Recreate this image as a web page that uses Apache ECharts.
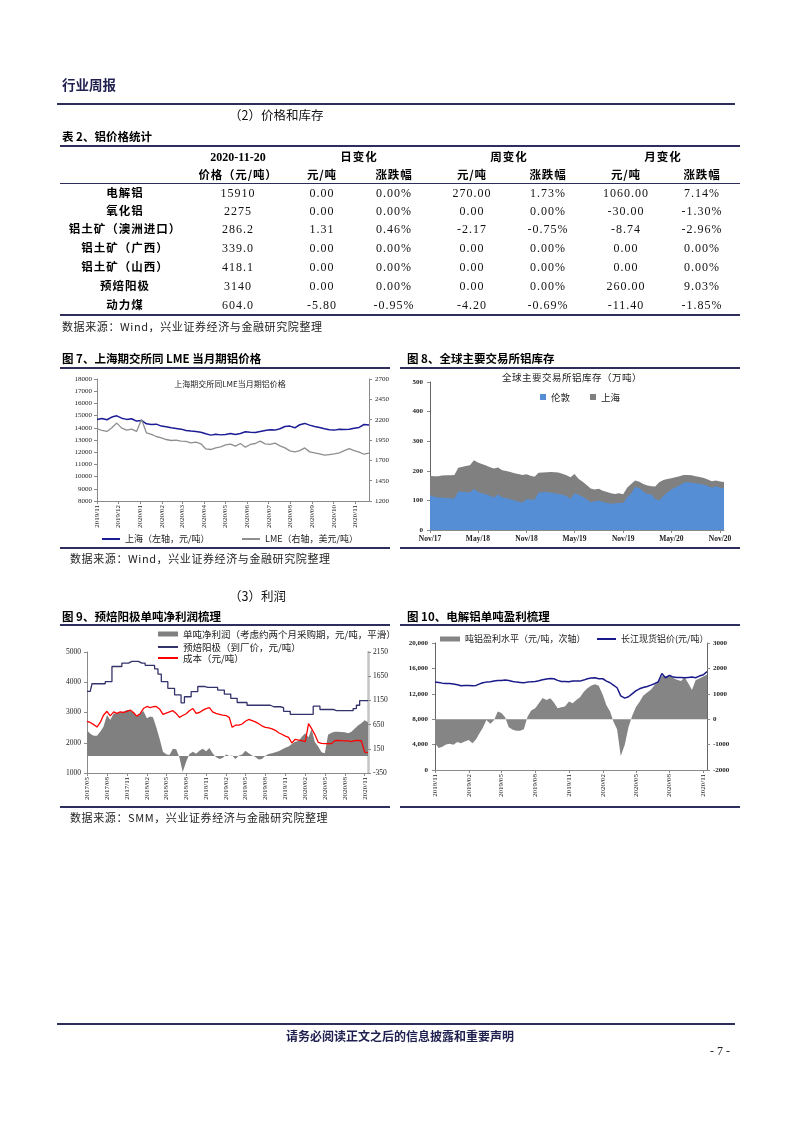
<!DOCTYPE html>
<html><head><meta charset="utf-8"><title>铝价格统计与库存、利润</title>
<script src="https://cdn.jsdelivr.net/npm/echarts@6.0.0/dist/echarts.min.js"></script>
<style>
html,body{margin:0;padding:0;background:#fff;}
#page{position:relative;width:793px;height:1122px;overflow:hidden;background:#fff;}
#chart{position:absolute;left:0;top:0;width:793px;height:1122px;}
#overlay{position:absolute;left:0;top:0;width:793px;height:1122px;pointer-events:none;}
.tx{position:absolute;white-space:nowrap;line-height:1;font-family:"Noto Sans CJK SC",sans-serif;color:#000;}
.hl{position:absolute;background:#2e2e5e;}
</style></head>
<body><div id="page"><div id="chart"></div><div id="overlay"></div></div>
<script>
// ---------------- DATA ----------------
// Table 2
const tblRows = ['电解铝','氧化铝','铝土矿（澳洲进口）','铝土矿（广西）','铝土矿（山西）','预焙阳极','动力煤'];
const tblPrice = ['15910','2275','286.2','339.0','418.1','3140','604.0'];
const tblDayAbs = ['0.00','0.00','1.31','0.00','0.00','0.00','-5.80'];
const tblDayPct = ['0.00%','0.00%','0.46%','0.00%','0.00%','0.00%','-0.95%'];
const tblWeekAbs = ['270.00','0.00','-2.17','0.00','0.00','0.00','-4.20'];
const tblWeekPct = ['1.73%','0.00%','-0.75%','0.00%','0.00%','0.00%','-0.69%'];
const tblMonAbs = ['1060.00','-30.00','-8.74','0.00','0.00','260.00','-11.40'];
const tblMonPct = ['7.14%','-1.30%','-2.96%','0.00%','0.00%','9.03%','-1.85%'];

// Fig 7: weekly from 2019-11-01
const shfeAl = [14680,14770,14660,14880,14980,14790,14690,14740,14550,14600,14330,14270,14300,14140,14080,14000,13950,13890,13780,13730,13700,13640,13510,13400,13480,13420,13450,13530,13450,13530,13670,13640,13620,13700,13780,13840,13810,13920,14110,14140,14000,14250,14360,14220,14110,14030,13920,13840,13810,13890,13860,13890,13970,14030,14270,14220];
const lmeAl = [2090,2067,2055,2100,2158,2096,2071,2084,2055,2203,2038,2018,1993,1977,1956,1944,1948,1936,1932,1915,1923,1903,1840,1833,1853,1866,1890,1899,1874,1907,1862,1895,1907,1936,1903,1895,1911,1878,1853,1816,1804,1820,1853,1804,1792,1779,1763,1771,1779,1792,1820,1845,1820,1800,1775,1788];
const fig7RightTicks = [1200,1450,1700,1950,2200,2450,2700];

// Fig 8: semi-monthly from 2017-11-01 (万吨)
const lmeStock = [117,112,110,109,108,107,106,130,129,128,127,139,128,124,121,115,110,120,111,107,104,100,96,92,105,103,102,126,128,128,126,124,122,119,115,105,124,119,112,104,94,97,100,95,91,89,90,91,92,110,123,145,142,130,122,120,105,100,115,127,137,144,151,159,162,160,158,156,153,149,143,148,143,140];
const shStock = [66,70,72,75,77,78,80,80,84,88,92,97,100,99,97,97,98,91,91,92,92,92,93,94,83,80,78,67,66,67,70,71,72,71,70,73,65,54,51,48,46,40,39,38,37,35,32,33,29,33,32,22,21,25,28,28,42,61,54,45,38,34,31,27,24,25,24,23,23,22,22,19,21,22];

// Fig 9: semi-monthly from 2017-05-01
const anodeProfit = [535,460,420,420,500,604,850,745,880,880,900,915,950,930,900,815,880,930,780,815,800,600,350,90,35,20,150,140,-30,-330,-120,40,90,50,110,150,100,165,60,-20,-60,-40,30,0,10,-60,10,30,110,60,10,-20,-70,-60,5,40,60,80,100,135,170,200,250,295,310,400,470,390,560,290,190,80,60,440,480,500,500,495,490,470,500,570,630,680,740,700];
const anodePrice = [3700,3700,3950,3950,3950,3950,4020,4020,4520,4520,4520,4630,4630,4690,4690,4690,4630,4630,4560,4560,4560,4440,4270,4020,4020,3800,3800,3580,3580,3320,3520,3520,3690,3690,3860,3860,3830,3830,3830,3830,3740,3740,3610,3610,3470,3470,3330,3330,3330,3240,3240,3240,3240,3240,3240,3240,3190,3190,3190,3160,3040,3040,2940,2940,2940,2940,2940,2940,2940,3210,3210,3100,3100,3100,3100,3060,3060,3060,3060,3060,3060,3130,3240,3390,3390,3390];
const anodeCost = [2710,2670,2600,2520,2670,2910,3040,2890,3020,2970,3020,3000,3040,3080,3000,2880,2960,3130,3200,3160,3190,3200,3110,2940,2980,3020,3060,2970,2840,2900,2960,3060,3130,2970,3000,3070,3130,3160,3020,2970,2940,2910,2900,2830,2510,2580,2580,2620,2710,2770,2730,2690,2630,2560,2510,2490,2460,2410,2330,2280,2220,2180,1990,2110,2090,2070,2040,2630,2470,2270,2010,1980,1970,1970,1970,2070,2080,2070,2060,2060,2040,2070,2080,2070,1690,1670];
const fig9RightTicks = [-350,150,650,1150,1650,2150];

// Fig 10: three points per month (1st, 11th, 21st) from 2018-11-01
const alSpot = [13840,13790,13680,13630,13630,13530,13420,13260,13320,13320,13260,13320,13530,13740,13840,13890,14000,14110,14110,14160,14110,13950,13840,13790,13740,13840,13890,13950,14050,14210,14320,14420,14370,14110,13950,13950,13890,14000,14000,14000,14160,14370,14470,14530,14370,14370,14000,13740,13370,12950,11680,11320,11530,12000,12470,12790,13000,13160,13370,13580,13890,15200,14530,14900,14630,14580,14580,14530,14580,14630,14530,14790,15000,15500];
const alProfit = [-950,-1130,-1080,-1000,-970,-1010,-900,-950,-880,-820,-950,-790,-580,-350,-30,-180,-30,300,240,80,-320,-420,-450,-450,-400,100,340,430,630,830,760,820,660,430,470,500,700,630,760,860,1070,1220,1330,1380,1320,960,550,300,-90,-400,-1450,-1010,-320,130,470,680,920,1050,1160,1340,1460,1710,1680,1740,1620,1550,1500,1650,1420,1150,1530,1600,1680,1760];

// ---------------- DATES ----------------
const d7 = shfeAl.map((_, i) => new Date(2019, 10, 1 + 7 * i).getTime());
const d8 = lmeStock.map((_, i) => new Date(2017, 10 + Math.floor(i / 2), i % 2 ? 16 : 1).getTime());
const d9 = anodePrice.map((_, i) => new Date(2017, 4 + Math.floor(i / 2), i % 2 ? 16 : 1).getTime());
const d10 = alSpot.map((_, i) => new Date(2018, 10 + Math.floor(i / 3), [1, 11, 21][i % 3]).getTime());
function monthTicks(y, m, n, step) { const a = []; for (let k = 0; k < n; k++) a.push(new Date(y, m + k * step, 1).getTime()); return a; }
const ticks7 = monthTicks(2019, 10, 13, 1);
const ticks8 = monthTicks(2017, 10, 7, 6);
const ticks9 = monthTicks(2017, 4, 15, 3);
const ticks10 = monthTicks(2018, 10, 9, 3);
const zip = (xs, ys) => ys.map((v, i) => [xs[i], v]);
const totalStock = lmeStock.map((v, i) => v + shStock[i]);   // top of the stacked area
const fmtYM = v => { const d = new Date(v); return d.getFullYear() + '/' + String(d.getMonth() + 1).padStart(2, '0'); };
const MON = ['Jan','Feb','Mar','Apr','May','Jun','Jul','Aug','Sep','Oct','Nov','Dec'];
const fmtMY = v => { const d = new Date(v); return MON[d.getMonth()] + '/' + String(d.getFullYear()).slice(2); };
const plain = v => String(v);
const comma = v => v.toLocaleString('en-US');

// ---------------- OVERLAY TEXT ----------------
const ov = document.getElementById('overlay');
function txt(s, x, y, o) {
  o = o || {};
  const e = document.createElement('div');
  e.className = 'tx';
  e.textContent = s;
  e.style.left = x + 'px'; e.style.top = y + 'px';
  e.style.fontSize = (o.size || 11) + 'px';
  if (o.bold) e.style.fontWeight = 'bold';
  if (o.color) e.style.color = o.color;
  if (o.font) e.style.fontFamily = o.font;
  if (o.ls != null) e.style.letterSpacing = o.ls + 'px';
  const tx = o.align === 'c' ? '-50%' : (o.align === 'r' ? '-100%' : '0');
  e.style.transform = 'translate(' + tx + ',-50%)';
  ov.appendChild(e);
}
function hline(x1, x2, y, h, c) {
  const e = document.createElement('div');
  e.className = 'hl';
  e.style.left = x1 + 'px'; e.style.width = (x2 - x1) + 'px';
  e.style.top = (y - h / 2) + 'px'; e.style.height = h + 'px';
  if (c) e.style.background = c;
  ov.appendChild(e);
}
const SERIF = '"Liberation Serif","Times New Roman",serif';
txt('行业周报', 62, 85, {size: 13.5, bold: true, color: '#1f1f50'});
hline(57, 735, 104, 1.5);
txt('（2）价格和库存', 229, 115, {size: 12.5, color: '#111'});
txt('表 2、铝价格统计', 62, 137, {size: 11.5, bold: true});
hline(60, 740, 146, 2.5);
hline(60, 740, 183, 1);
hline(60, 740, 315, 2.5);
txt('2020-11-20', 238, 157, {size: 12, bold: true, font: SERIF, align: 'c'});
[['日变化', 359], ['周变化', 509], ['月变化', 663]].forEach(a => txt(a[0], a[1], 157, {size: 11.5, bold: true, align: 'c', ls: 1}));
const colX = [125, 238, 322, 394, 472, 548, 626, 702];
const head2 = ['价格（元/吨）', '元/吨', '涨跌幅', '元/吨', '涨跌幅', '元/吨', '涨跌幅'];
head2.forEach((s, i) => txt(s, colX[i + 1], 175, {size: 11.5, bold: true, align: 'c', ls: 0.8}));
const rowY = [193, 211, 229, 248, 267, 286, 305];
const cols = [tblPrice, tblDayAbs, tblDayPct, tblWeekAbs, tblWeekPct, tblMonAbs, tblMonPct];
tblRows.forEach((r, i) => {
  txt(r, colX[0], rowY[i], {size: 11.5, bold: true, align: 'c', ls: 1});
  cols.forEach((c, j) => txt(c[i], colX[j + 1], rowY[i], {size: 12, font: SERIF, align: 'c', ls: 1, color: '#111'}));
});
txt('数据来源：Wind，兴业证券经济与金融研究院整理', 62, 326, {size: 11, color: '#222', ls: 0.6});

txt('图 7、上海期交所同 LME 当月期铝价格', 62, 359, {size: 11.5, bold: true});
txt('图 8、全球主要交易所铝库存', 407, 359, {size: 11.5, bold: true});
hline(60, 390, 368, 2.5); hline(400, 740, 368, 2.5);
txt('上海期交所同LME当月期铝价格', 230, 384, {size: 8, align: 'c', color: '#222'});
txt('全球主要交易所铝库存（万吨）', 572, 378, {size: 9.5, align: 'c', color: '#222', ls: 0.5});
hline(60, 390, 548, 2.5); hline(400, 740, 548, 2.5);
txt('数据来源：Wind，兴业证券经济与金融研究院整理', 70, 558, {size: 11, color: '#222', ls: 0.6});

txt('（3）利润', 229, 596, {size: 12.5, color: '#111'});
txt('图 9、预焙阳极单吨净利润梳理', 62, 617, {size: 11.5, bold: true});
txt('图 10、电解铝单吨盈利梳理', 407, 617, {size: 11.5, bold: true});
hline(60, 390, 625, 2.5); hline(400, 740, 625, 2.5);
hline(60, 390, 807, 2.5); hline(400, 740, 807, 2.5);
txt('数据来源：SMM，兴业证券经济与金融研究院整理', 70, 817, {size: 11, color: '#222', ls: 0.6});

hline(57, 735, 1024, 2.5);
txt('请务必阅读正文之后的信息披露和重要声明', 400, 1036, {size: 12, bold: true, align: 'c', color: '#1f1f50'});
txt('- 7 -', 720, 1051, {size: 12, font: SERIF, align: 'c', color: '#222'});

// ---------------- CHART ----------------
const CJK = 'Noto Sans CJK SC';
const AX = '#8a8a8a';
function ylab(extra) { return Object.assign({fontSize: 7, fontFamily: SERIF, color: '#222', formatter: plain}, extra || {}); }
function xAx(grid, min, max, ticks, fmt, rotate, extraLab) {
  return {
    gridIndex: grid, type: 'value', min: min, max: max, scale: true,
    axisLine: {show: true, onZero: false, lineStyle: {color: AX, width: 1}},
    axisTick: {show: true, customValues: ticks, length: 3, lineStyle: {color: AX}},
    axisLabel: Object.assign({customValues: ticks, formatter: fmt, rotate: rotate, fontSize: 7, fontFamily: SERIF, color: '#222', margin: 4, hideOverlap: false}, extraLab || {}),
    splitLine: {show: false}, minorTick: {show: false}
  };
}
function yAx(grid, pos, min, max, interval, lab, lineExtra, custom) {
  const a = {
    gridIndex: grid, type: 'value', position: pos, min: min, max: max, interval: interval,
    axisLine: {show: true, onZero: false, lineStyle: Object.assign({color: AX, width: 1}, lineExtra || {})},
    axisTick: {show: true, length: 3, lineStyle: {color: AX}},
    axisLabel: lab, splitLine: {show: false}
  };
  if (custom) { a.axisTick.customValues = custom; a.axisLabel.customValues = custom; }
  return a;
}
const legText = size => ({fontSize: size, fontFamily: CJK, color: '#222', lineHeight: 12});
function leg(names, left, top, w, h, extra) {
  return Object.assign({data: names, left: left, top: top, padding: 0, itemWidth: w, itemHeight: h, icon: 'rect', selectedMode: false, textStyle: legText(9), itemGap: 20}, extra || {});
}

const option = {
  animation: false,
  backgroundColor: '#fff',
  grid: [
    {left: 97, top: 379, width: 272, height: 122},
    {left: 430, top: 382, width: 294, height: 148},
    {left: 87, top: 652, width: 281, height: 121},
    {left: 435, top: 643, width: 272, height: 127}
  ],
  xAxis: [
    xAx(0, d7[0], d7[d7.length - 1], ticks7, fmtYM, 90),
    xAx(1, d8[0], d8[d8.length - 1], ticks8, fmtMY, 0, {fontWeight: 'bold', fontSize: 7.5, margin: 5}),
    xAx(2, d9[0], d9[d9.length - 1], ticks9, fmtYM, 90),
    xAx(3, d10[0], d10[d10.length - 1], ticks10, fmtYM, 90)
  ],
  yAxis: [
    yAx(0, 'left', 8000, 18000, 1000, ylab({margin: 5})),
    yAx(0, 'right', 1200, 2700, 250, ylab({margin: 6}), null, fig7RightTicks),
    yAx(1, 'left', 0, 500, 100, ylab({margin: 7, fontWeight: 'bold'}), {color: '#666'}),
    yAx(2, 'left', 1000, 5000, 1000, ylab({margin: 6, fontSize: 7.5})),
    yAx(2, 'right', -350, 2150, 500, ylab({margin: 5, fontSize: 7.5}), {color: '#c4c4c4', width: 2.5}, fig9RightTicks),
    yAx(3, 'left', 0, 20000, 4000, ylab({margin: 7, fontWeight: 'bold', formatter: comma}), {color: '#666'}),
    yAx(3, 'right', -2000, 3000, 1000, ylab({margin: 6, fontWeight: 'bold'}), {color: '#666'})
  ],
  legend: [
    leg(['上海（左轴，元/吨）'], 102, 533, 18, 2),
    leg(['LME（右轴，美元/吨）'], 242, 533, 18, 2),
    leg(['伦敦', '上海'], 540, 391, 6, 6, {itemGap: 20, textStyle: legText(9.5)}),
    leg(['单吨净利润（考虑约两个月采购期，元/吨，平滑）'], 158, 628, 20, 5, {textStyle: legText(9.5)}),
    leg(['预焙阳极（到厂价，元/吨）'], 158, 641, 20, 2, {textStyle: legText(9.5)}),
    leg(['成本（元/吨）'], 158, 652, 20, 2, {textStyle: legText(9.5)}),
    leg(['吨铝盈利水平（元/吨，次轴）'], 440, 633, 20, 5),
    leg(['长江现货铝价(元/吨）'], 597, 633, 19, 2)
  ],
  series: [
    {name: '上海（左轴，元/吨）', type: 'line', xAxisIndex: 0, yAxisIndex: 0, data: zip(d7, shfeAl), symbol: 'none', lineStyle: {color: '#1c1c96', width: 1.5}, itemStyle: {color: '#1c1c96'}},
    {name: 'LME（右轴，美元/吨）', type: 'line', xAxisIndex: 0, yAxisIndex: 1, data: zip(d7, lmeAl), symbol: 'none', lineStyle: {color: '#8f8f8f', width: 1.3}, itemStyle: {color: '#8f8f8f'}},
    // Shanghai stock is drawn as the band above London: total area first, London area on top
    {name: '上海', type: 'line', xAxisIndex: 1, yAxisIndex: 2, data: zip(d8, totalStock), symbol: 'none', lineStyle: {width: 0}, areaStyle: {color: '#808080', opacity: 1, origin: 'start'}, itemStyle: {color: '#808080'}},
    {name: '伦敦', type: 'line', xAxisIndex: 1, yAxisIndex: 2, data: zip(d8, lmeStock), symbol: 'none', lineStyle: {width: 0}, areaStyle: {color: '#558ed5', opacity: 1, origin: 'start'}, itemStyle: {color: '#558ed5'}},
    {name: '单吨净利润（考虑约两个月采购期，元/吨，平滑）', type: 'line', xAxisIndex: 2, yAxisIndex: 4, data: zip(d9, anodeProfit), symbol: 'none', lineStyle: {width: 0}, areaStyle: {color: '#808080', opacity: 1, origin: 0}, itemStyle: {color: '#808080'}},
    {name: '预焙阳极（到厂价，元/吨）', type: 'line', step: 'middle', xAxisIndex: 2, yAxisIndex: 3, data: zip(d9, anodePrice), symbol: 'none', lineStyle: {color: '#33336b', width: 1.3}, itemStyle: {color: '#33336b'}},
    {name: '成本（元/吨）', type: 'line', xAxisIndex: 2, yAxisIndex: 3, data: zip(d9, anodeCost), symbol: 'none', lineStyle: {color: '#ff0000', width: 1.3}, itemStyle: {color: '#ff0000'}},
    {name: '吨铝盈利水平（元/吨，次轴）', type: 'line', xAxisIndex: 3, yAxisIndex: 6, data: zip(d10, alProfit), symbol: 'none', lineStyle: {width: 0}, areaStyle: {color: '#858585', opacity: 1, origin: 0}, itemStyle: {color: '#858585'}},
    {name: '长江现货铝价(元/吨）', type: 'line', xAxisIndex: 3, yAxisIndex: 5, data: zip(d10, alSpot), symbol: 'none', lineStyle: {color: '#1a1a8a', width: 1.5}, itemStyle: {color: '#1a1a8a'}}
  ]
};
const chart = echarts.init(document.getElementById('chart'), null, {renderer: 'canvas'});
chart.setOption(option);
</script></body></html>
